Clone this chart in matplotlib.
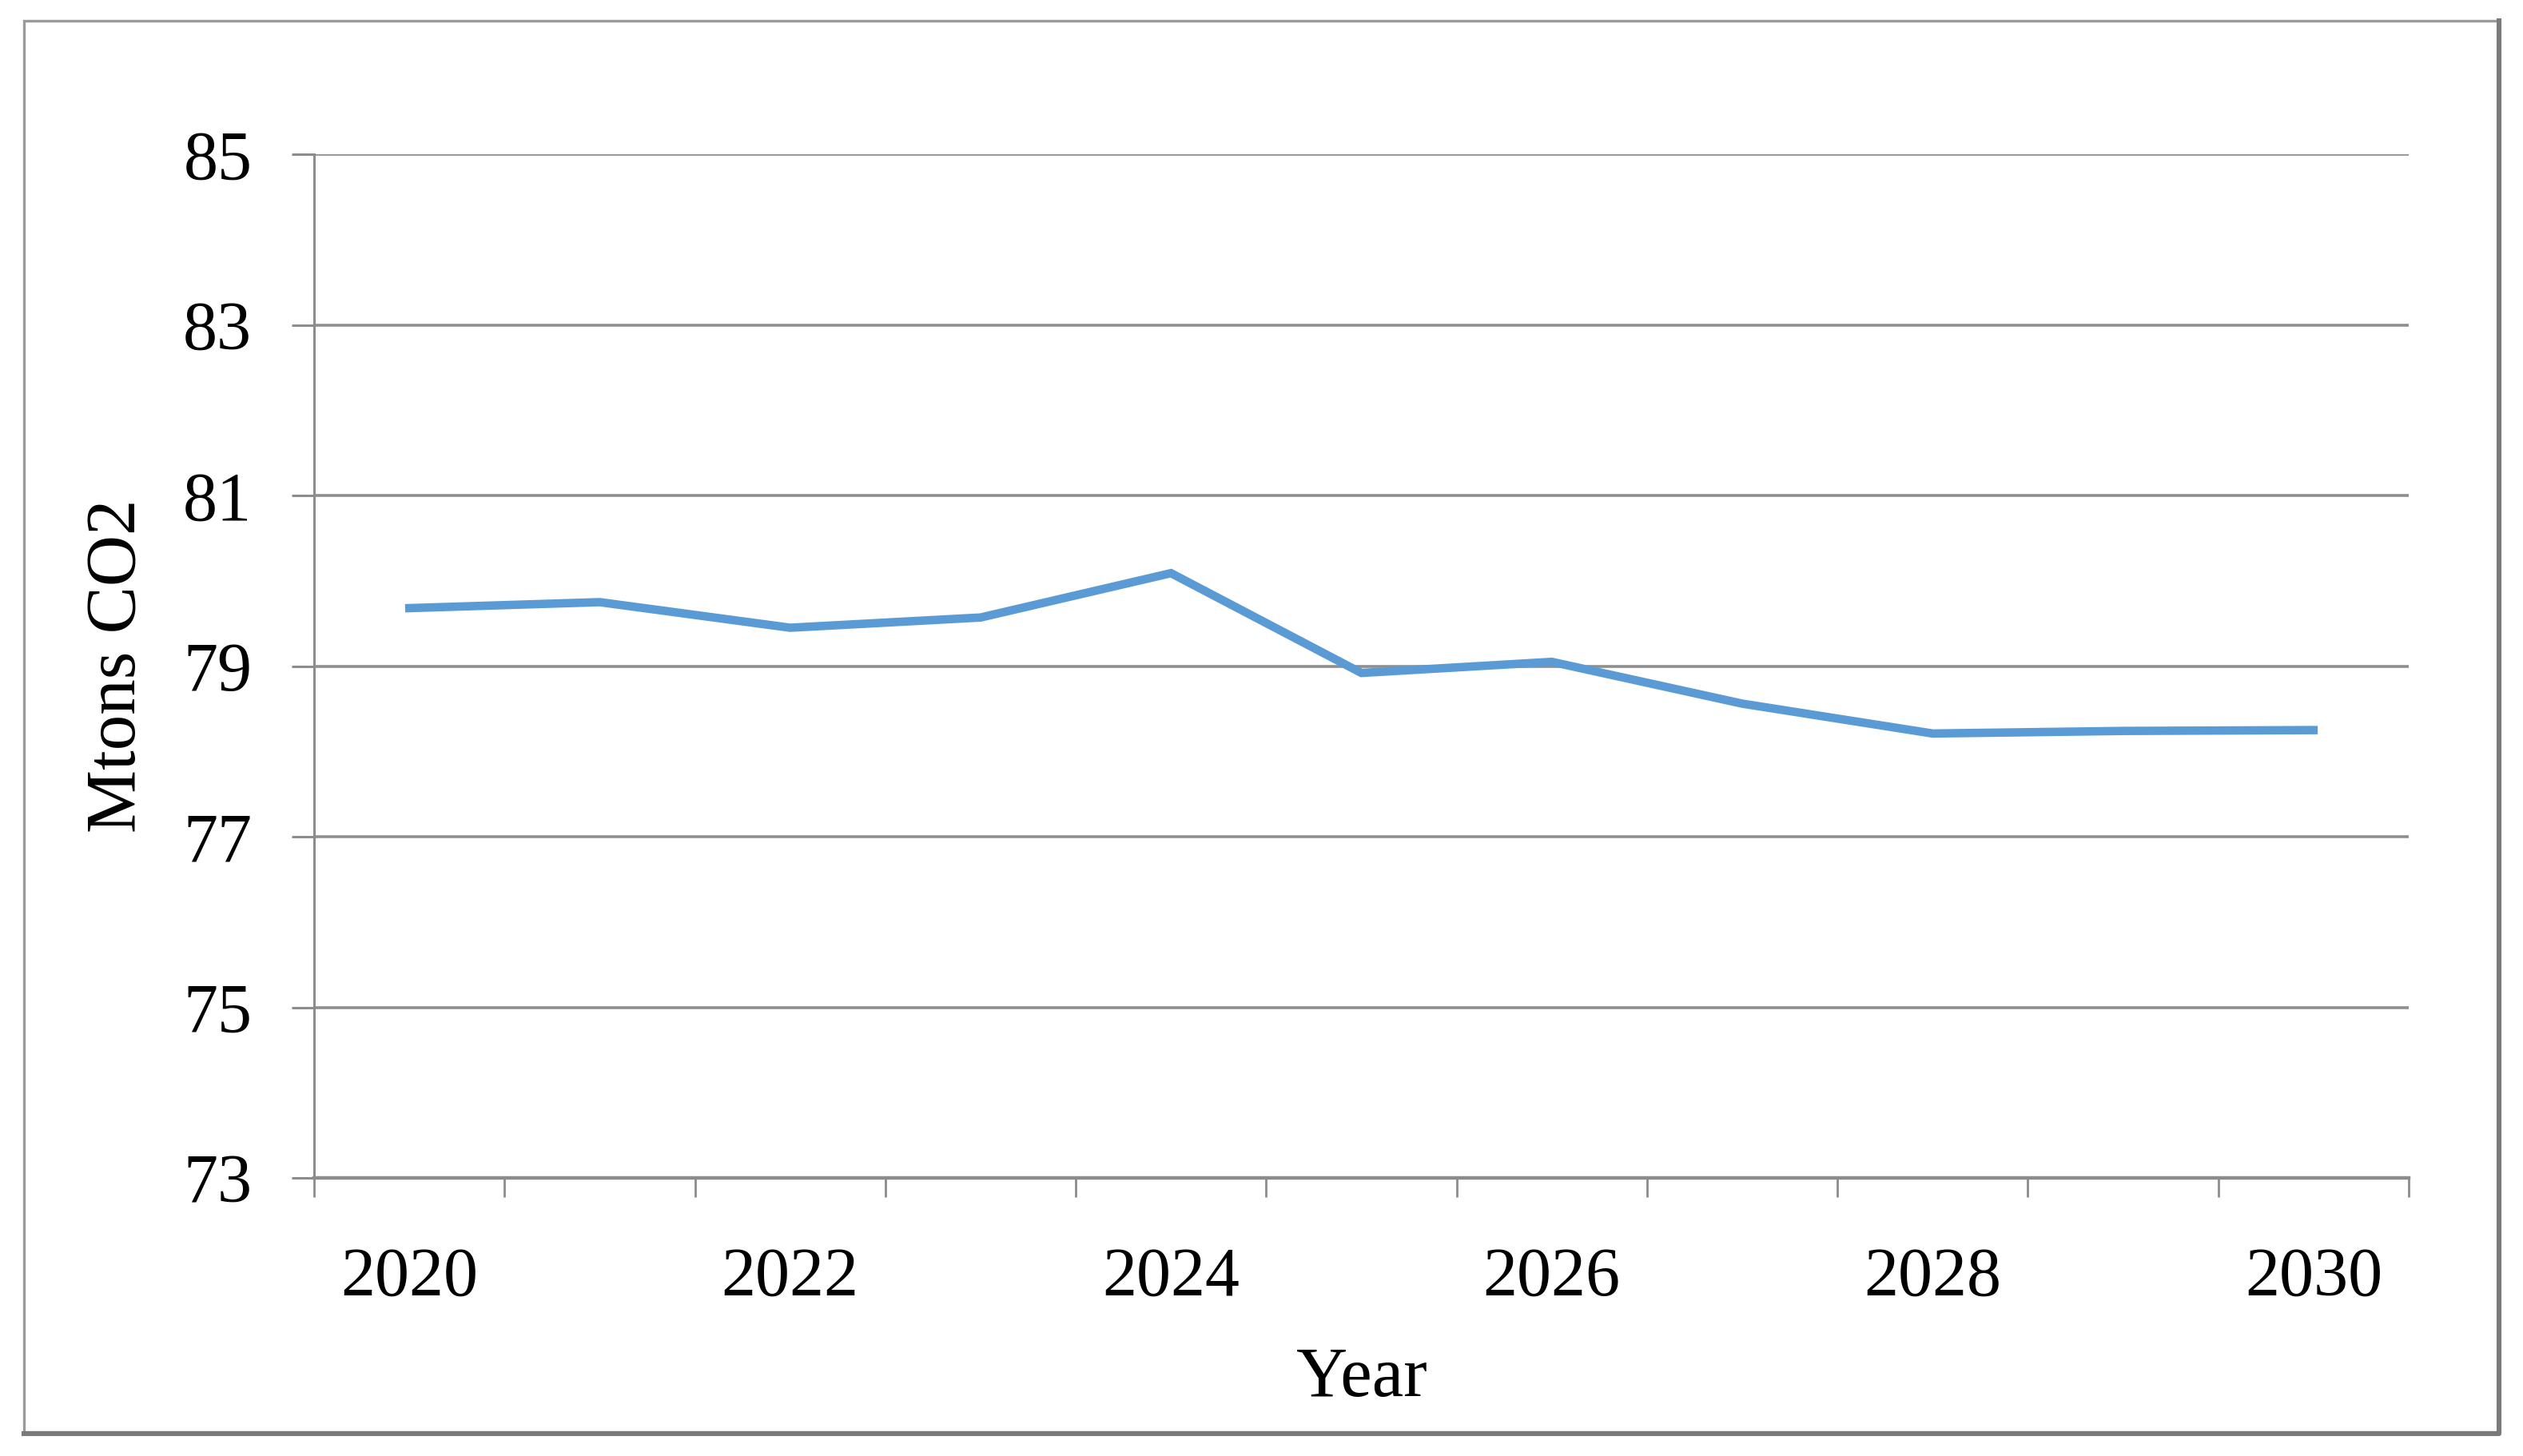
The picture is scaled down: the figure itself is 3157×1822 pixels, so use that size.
import matplotlib.pyplot as plt
from matplotlib.patches import Rectangle
from matplotlib.lines import Line2D
from matplotlib.ticker import FixedLocator

# values
years = [2020, 2021, 2022, 2023, 2024, 2025, 2026, 2027, 2028, 2029, 2030]
emissions = [79.68, 79.75, 79.45, 79.57, 80.09, 78.92, 79.05, 78.56, 78.21, 78.24, 78.25]
yticks = [73, 75, 77, 79, 81, 83, 85]
xlabels = ['2020', '2022', '2024', '2026', '2028', '2030']

plt.rcParams['font.family'] = ['Liberation Serif', 'DejaVu Serif']

fig = plt.figure(figsize=(15.785, 9.11), dpi=200)
ax = fig.add_axes([0.1245, 0.191, 0.8302, 0.703])

# category axis like Excel: points at the centre of each slot
pos = list(range(len(years)))
ax.plot(pos, emissions, color='#5B9BD5', linewidth=3.8, solid_joinstyle='miter', zorder=3)

ax.set_xlim(-0.5, len(years) - 0.5)
ax.set_ylim(73, 85)
ax.set_yticks(yticks)
ax.set_yticklabels([str(t) for t in yticks])

# labels every other year, tick marks on the slot borders
ax.set_xticks(pos[::2])
ax.set_xticklabels(xlabels)
ax.xaxis.set_minor_locator(FixedLocator([p - 0.5 for p in pos] + [len(years) - 0.5]))
ax.tick_params(axis='x', which='major', length=0, pad=31, labelsize=31)
ax.tick_params(axis='x', which='minor', length=8.6, width=1.0, color='#8c8c8c')
ax.tick_params(axis='y', length=10, width=1.1, color='#8c8c8c', pad=18, labelsize=31)

ax.grid(axis='y', color='#8f8f8f', linewidth=1.3)
ax.set_axisbelow(True)
for s in ['top', 'right']:
    ax.spines[s].set_visible(False)
ax.spines['left'].set_color('#8c8c8c')
ax.spines['left'].set_linewidth(1.1)
ax.spines['bottom'].set_color('#8c8c8c')
ax.spines['bottom'].set_linewidth(1.6)

ax.set_xlabel('Year', fontsize=32)
ax.xaxis.label.set_va('center')
ax.xaxis.set_label_coords(0.5, -0.196)
ax.set_ylabel('Mtons CO2', fontsize=32)
ax.yaxis.label.set_va('center')
ax.yaxis.set_label_coords(-0.094, 0.5)

# outer chart frame with a slight shadow on the right and bottom
x0, y0 = 30 / 3157, 1 - 1792 / 1822
x1, y1 = 3127 / 3157, 1 - 26 / 1822
fig.patches.append(Rectangle((x0, y0), x1 - x0, y1 - y0, transform=fig.transFigure,
                             fill=False, edgecolor='#9a9a9a', linewidth=1.2))
fig.lines.append(Line2D([x0, x1, x1], [y0 - 0.0012, y0 - 0.0012, y1],
                        transform=fig.transFigure, color='#7a7a7a', linewidth=2.2))

fig.savefig('out.png', dpi=200, facecolor='white')
